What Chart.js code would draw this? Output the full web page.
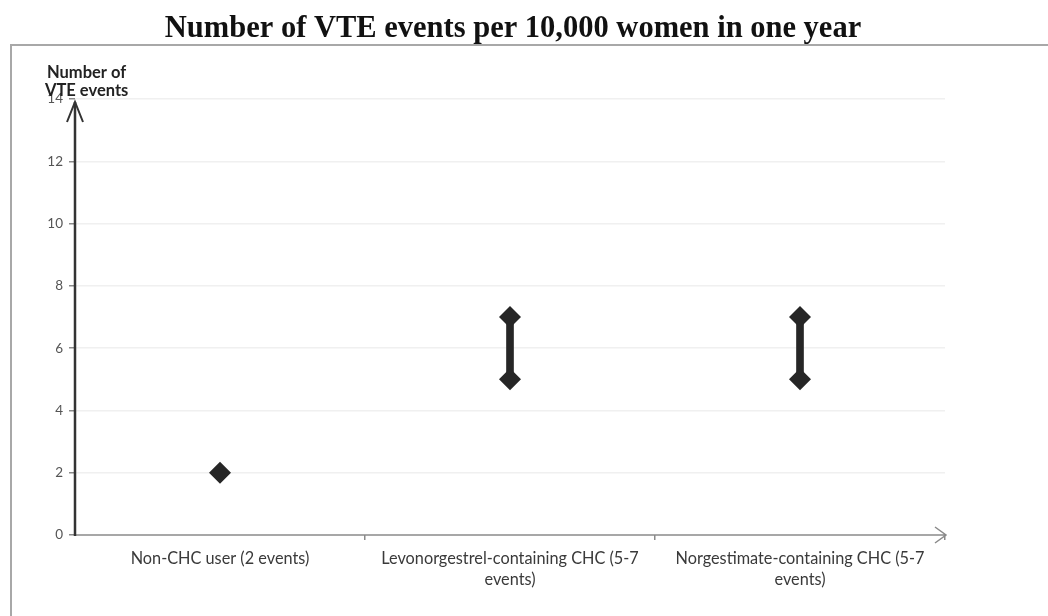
<!DOCTYPE html>
<html>
<head>
<meta charset="utf-8">
<script src="https://cdn.jsdelivr.net/npm/chart.js@4/dist/chart.umd.min.js"></script>
<style>
html,body{margin:0;padding:0;background:#fff;}
#wrap{position:relative;width:1048px;height:616px;}
</style>
</head>
<body>
<div id="wrap"><canvas id="c" width="1048" height="616"></canvas></div>
<script>
// ---- data ----
const chartTitle = 'Number of VTE events per 10,000 women in one year';
const yAxisTitle = ['Number of', 'VTE events'];
const categories = [
  ['Non-CHC user (2 events)'],
  ['Levonorgestrel-containing CHC (5-7', 'events)'],
  ['Norgestimate-containing CHC (5-7', 'events)']
];
const lowValues  = [2, 5, 5];
const highValues = [2, 7, 7];
const yTicks = [0, 2, 4, 6, 8, 10, 12, 14];

const rangeBars = lowValues.map((lo, i) => highValues[i] > lo ? [lo, highValues[i]] : null);
const highPoints = highValues.map((hi, i) => hi > lowValues[i] ? hi : null);

const dark = '#262626';

const decor = {
  id: 'decor',
  beforeDraw(chart) {
    const c = chart.ctx;
    c.save();
    c.fillStyle = '#fff';
    c.fillRect(0, 0, chart.width, chart.height);
    // frame
    c.strokeStyle = '#a8a8a8';
    c.lineWidth = 2;
    c.beginPath();
    c.moveTo(1048, 45);
    c.lineTo(11, 45);
    c.lineTo(11, 616);
    c.stroke();
    // title
    c.fillStyle = '#111';
    c.font = 'bold 30.5px "Liberation Serif", "Times New Roman", serif';
    c.textAlign = 'center';
    c.textBaseline = 'alphabetic';
    c.fillText(chartTitle, 513, 37);
    c.restore();
  },
  beforeDatasetsDraw(chart) {
    const c = chart.ctx;
    const a = chart.chartArea;
    const y = chart.scales.y;
    const y0 = y.getPixelForValue(0);
    c.save();
    // x axis with arrow
    c.strokeStyle = '#8a8a8a';
    c.lineWidth = 1.5;
    c.beginPath();
    c.moveTo(a.left, y0);
    c.lineTo(a.right + 1, y0);
    c.moveTo(a.right - 10, y0 - 8);
    c.lineTo(a.right + 1, y0);
    c.lineTo(a.right - 10, y0 + 8);
    c.stroke();
    // y axis with arrow
    c.strokeStyle = '#333';
    c.lineWidth = 2.5;
    c.beginPath();
    c.moveTo(a.left, y0 + 1);
    c.lineTo(a.left, a.top + 3);
    c.stroke();
    c.lineWidth = 2;
    c.beginPath();
    c.moveTo(a.left - 8, a.top + 23);
    c.lineTo(a.left, a.top + 3);
    c.lineTo(a.left + 8, a.top + 23);
    c.stroke();
    // y axis title
    c.fillStyle = '#222';
    c.font = 'bold 16.5px Lato, "Open Sans", sans-serif';
    c.textAlign = 'left';
    c.textBaseline = 'middle';
    c.fillText(yAxisTitle[0], 47, 73);
    c.fillText(yAxisTitle[1], 45, 91);
    c.restore();
  }
};

new Chart(document.getElementById('c'), {
  type: 'bar',
  data: {
    labels: categories,
    datasets: [
      {
        type: 'bar',
        data: rangeBars,
        backgroundColor: dark,
        borderWidth: 0,
        barThickness: 7,
        order: 2
      },
      {
        type: 'line',
        data: lowValues,
        showLine: false,
        pointStyle: 'rectRot',
        pointRadius: 11,
        pointBackgroundColor: dark,
        pointBorderColor: dark,
        pointBorderWidth: 0,
        order: 1
      },
      {
        type: 'line',
        data: highPoints,
        showLine: false,
        pointStyle: 'rectRot',
        pointRadius: 11,
        pointBackgroundColor: dark,
        pointBorderColor: dark,
        pointBorderWidth: 0,
        order: 1
      }
    ]
  },
  options: {
    responsive: false,
    animation: false,
    layout: { padding: { left: 0, right: 103, top: 99, bottom: 0 } },
    plugins: {
      legend: { display: false },
      title: { display: false },
      tooltip: { enabled: false }
    },
    scales: {
      x: {
        type: 'category',
        offset: true,
        border: { display: false },
        grid: {
          offset: true,
          drawOnChartArea: false,
          drawTicks: true,
          tickLength: 5,
          color: (ctx) => (ctx.index === 0 || ctx.index === categories.length) ? 'rgba(0,0,0,0)' : '#8a8a8a',
          lineWidth: 1.5
        },
        ticks: {
          color: '#3a3a3a',
          font: { family: 'Lato, "Open Sans", sans-serif', size: 16.3, lineHeight: 1.25 },
          maxRotation: 0,
          minRotation: 0,
          autoSkip: false,
          padding: 9
        },
        afterFit(scale) { scale.height = 81; }
      },
      y: {
        min: 0,
        max: 14,
        border: { display: false },
        afterBuildTicks(scale) { scale.ticks = yTicks.map(v => ({ value: v })); },
        grid: {
          color: (ctx) => ctx.tick && ctx.tick.value === 0 ? 'rgba(0,0,0,0)' : '#f0f0f0',
          tickColor: '#8a8a8a',
          tickLength: 6,
          lineWidth: 1.5
        },
        ticks: {
          color: '#555',
          font: { family: 'Lato, "Open Sans", sans-serif', size: 13.5 },
          padding: 6
        },
        afterFit(scale) { scale.width = 75; }
      }
    }
  },
  plugins: [decor]
});
</script>
</body>
</html>
